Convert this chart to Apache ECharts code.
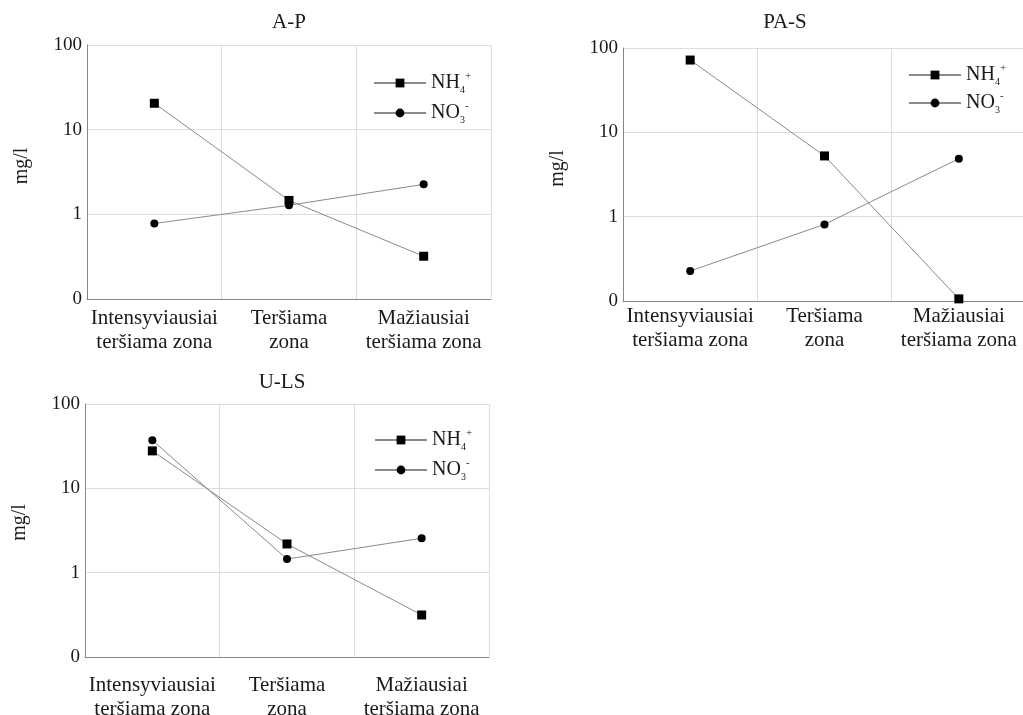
<!DOCTYPE html>
<html>
<head>
<meta charset="utf-8">
<script src="https://cdn.jsdelivr.net/npm/echarts@6/dist/echarts.min.js"></script>
<style>
  html, body { margin: 0; padding: 0; background: #fff; }
  #chart { width: 1023px; height: 715px; }
</style>
</head>
<body>
<div id="chart"></div>
<script>
// Pollution zones along the flow path
const zones = ['Intensyviausiai\nteršiama zona', 'Teršiama\nzona', 'Mažiausiai\nteršiama zona'];

// Concentrations, mg/l
const apNH4 = [20.5, 1.46, 0.32];
const apNO3 = [0.78, 1.28, 2.26];
const pasNH4 = [72, 5.25, 0.106];
const pasNO3 = [0.227, 0.81, 4.87];
const ulsNH4 = [27.8, 2.19, 0.315];
const ulsNO3 = [37.2, 1.45, 2.56];

// Log-axis tick labels for 0.1, 1, 10, 100
const yTickLabels = ['0', '1', '10', '100'];

const panelTitles = ['A-P', 'PA-S', 'U-LS'];
const seriesNames = ['NH4+', 'NO3-'];

const FONT = 'Liberation Serif';
const TXT = '#1a1a1a';

const grids = [
  { left: 87, top: 45, width: 404, height: 254, outerBoundsMode: 'none' },
  { left: 623, top: 48, width: 403, height: 253, outerBoundsMode: 'none' },
  { left: 85, top: 404, width: 404, height: 253, outerBoundsMode: 'none' }
];
const labelMargins = [7, 3, 16];
const namePads = [12, 12, 16];
const titlePos = [[289, 12], [785, 12], [282, 372]];
const legendPos = [[368, 66], [903, 58], [369, 423]];
const legendGaps = [6, 4, 6];

const panelData = [[apNH4, apNO3], [pasNH4, pasNO3], [ulsNH4, ulsNO3]];

const xAxes = grids.map((g, i) => ({
  type: 'category',
  gridIndex: i,
  data: zones,
  boundaryGap: true,
  axisLine: { lineStyle: { color: '#888', width: 1 } },
  axisTick: { show: false },
  splitLine: { show: true, lineStyle: { color: '#ddd', width: 1 } },
  axisLabel: {
    margin: labelMargins[i], color: TXT, fontFamily: FONT, fontSize: 21,
    lineHeight: 24, interval: 0
  }
}));

const yAxes = grids.map((g, i) => ({
  type: 'log',
  gridIndex: i,
  logBase: 10,
  min: 0.1,
  max: 100,
  interval: 1,
  name: 'mg/l',
  nameLocation: 'middle',
  nameGap: 55,
  nameRotate: 90,
  nameTextStyle: { color: TXT, fontFamily: FONT, fontSize: 20, padding: [0, 0, 0, namePads[i]] },
  axisLine: { show: true, lineStyle: { color: '#888', width: 1 } },
  axisTick: { show: false },
  splitLine: { show: true, lineStyle: { color: '#ddd', width: 1 } },
  axisLabel: {
    margin: 5, color: TXT, fontFamily: FONT, fontSize: 19,
    formatter: v => yTickLabels[Math.round(Math.log10(v)) + 1]
  }
}));

const series = [];
panelData.forEach((pair, i) => {
  pair.forEach((vals, k) => {
    series.push({
      type: 'line',
      name: seriesNames[k],
      xAxisIndex: i,
      yAxisIndex: i,
      data: vals,
      symbol: k === 0 ? 'rect' : 'circle',
      symbolSize: k === 0 ? 9 : 8,
      itemStyle: { color: '#000' },
      lineStyle: { color: '#8a8a8a', width: 1 },
      emphasis: { disabled: true },
      animation: false
    });
  });
});

const legendRich = {
  b: { fontFamily: FONT, fontSize: 20, color: TXT, lineHeight: 24 },
  sub: { fontFamily: FONT, fontSize: 10, color: TXT, lineHeight: 10, verticalAlign: 'bottom' },
  sup: { fontFamily: FONT, fontSize: 11, color: TXT, lineHeight: 12, verticalAlign: 'top' }
};

const legends = legendPos.map((p, i) => ({
  orient: 'vertical',
  left: p[0],
  top: p[1],
  itemWidth: 52,
  itemHeight: 11,
  itemGap: legendGaps[i],
  data: seriesNames,
  selectedMode: false,
  textStyle: { rich: legendRich },
  formatter: n => n === 'NH4+' ? '{b|NH}{sub|4}{sup|+}' : '{b|NO}{sub|3}{sup|-}'
}));

const titles = panelTitles.map((t, i) => ({
  text: t,
  left: titlePos[i][0],
  top: titlePos[i][1],
  padding: 0,
  textAlign: 'center',
  textStyle: { fontFamily: FONT, fontSize: 21, fontWeight: 'normal', color: TXT }
}));

const chart = echarts.init(document.getElementById('chart'));
chart.setOption({
  backgroundColor: '#fff',
  animation: false,
  title: titles,
  legend: legends,
  grid: grids,
  xAxis: xAxes,
  yAxis: yAxes,
  series: series
});
</script>
</body>
</html>
